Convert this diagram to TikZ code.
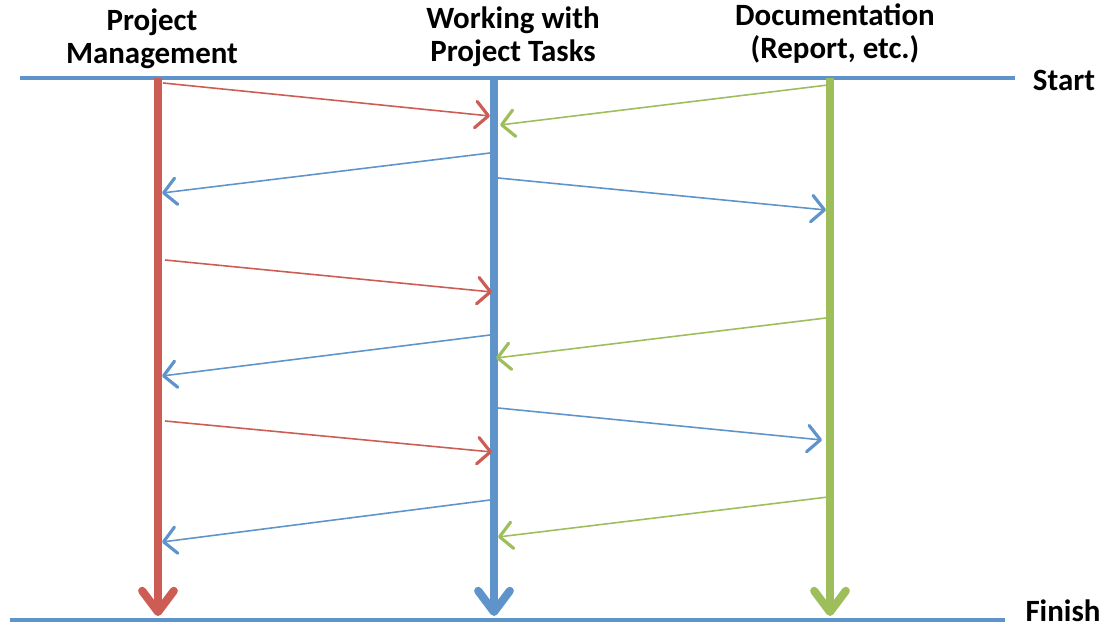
\documentclass[tikz,border=0pt]{standalone}
\usepackage{fontspec}
\setmainfont{Carlito}
\usetikzlibrary{arrows.meta,calc}

\definecolor{pmred}{RGB}{205,92,85}
\definecolor{wtblue}{RGB}{95,148,202}
\definecolor{docgreen}{RGB}{158,190,92}

\begin{document}
\begin{tikzpicture}[
  x=0.01cm,
  y=-0.01cm,
  font=\fontsize{8.8}{9.4}\selectfont\bfseries,
  head/.style={align=center, inner sep=0pt},
  mark line/.style={wtblue, line width=0.9pt},
  lane/.style={line width=2.3pt, -{Straight Barb[length=6pt, width=9pt, round]}},
  msg/.style={line width=0.45pt, -{Straight Barb[length=3.6pt, width=7.5pt, line width=0.9pt, round]}}
]
  \useasboundingbox (0,0) rectangle (1107,628);

  % lane heads
  \node[head] (hpm) at (152,39) {Project\\Management};
  \node[head] (hwt) at (513,37) {Working with\\Project Tasks};
  \node[head] (hdoc) at (835,34) {Documentation\\(Report, etc.)};

  % start and finish
  \coordinate (s0) at (20,78);
  \coordinate (s1) at (1015,78);
  \coordinate (f0) at (10,620);
  \coordinate (f1) at (1005,620);
  \node[inner sep=0pt] (start) at (1064,80) {Start};
  \node[inner sep=0pt] (finish) at (1063,611) {Finish};
  \draw[mark line] (s0) -- (s1);
  \draw[mark line] (f0) -- (f1);

  % lanes
  \coordinate (pm) at (158,78);
  \coordinate (wt) at (494,78);
  \coordinate (doc) at (830,78);
  \draw[lane, pmred] (pm) -- (pm |- 0,616);
  \draw[lane, wtblue] (wt) -- (wt |- 0,616);
  \draw[lane, docgreen] (doc) -- (doc |- 0,616);

  % hand-overs
  \foreach \ya/\xa/\yb/\xb/\s/\t/\c in {
      83/5/116/-4/pm/wt/pmred,
      85/-2/125/6/doc/wt/docgreen,
      153/-4/193/4/wt/pm/wtblue,
      178/4/210/-4/wt/doc/wtblue,
      260/7/292/-2/pm/wt/pmred,
      318/-4/358/2/doc/wt/docgreen,
      335/-4/376/4/wt/pm/wtblue,
      408/4/440/-8/wt/doc/wtblue,
      421/7/452/-2/pm/wt/pmred,
      497/-2/537/4/doc/wt/docgreen,
      500/-4/542/4/wt/pm/wtblue}
    \draw[msg, \c] ($(\s |- 0,\ya)+(\xa,0)$) -- ($(\t |- 0,\yb)+(\xb,0)$);
\end{tikzpicture}
\end{document}
